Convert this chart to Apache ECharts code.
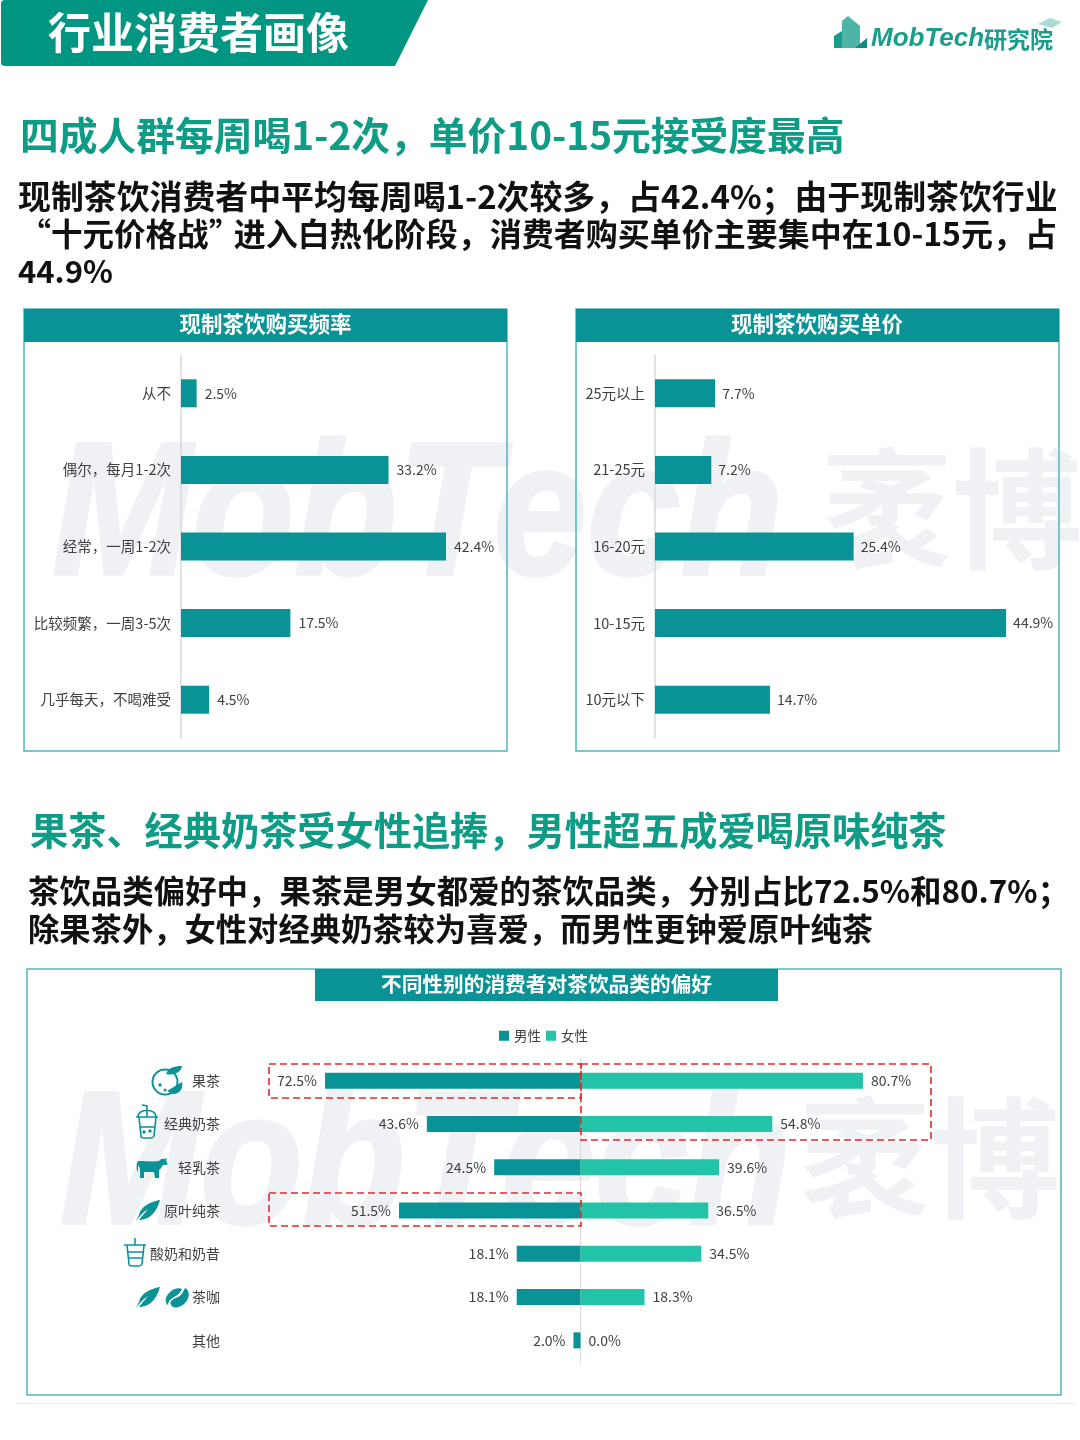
<!DOCTYPE html>
<html><head><meta charset="utf-8">
<style>html,body{margin:0;padding:0;background:#fff}#c{width:1080px;height:1440px}</style>
<script src="https://cdn.jsdelivr.net/npm/echarts@6/dist/echarts.min.js"></script>
</head><body><div id="c"></div>
<script>
const freqCategories = ['从不','偶尔，每月1-2次','经常，一周1-2次','比较频繁，一周3-5次','几乎每天，不喝难受'];
const freqValues = [2.5,33.2,42.4,17.5,4.5];
const priceCategories = ['25元以上','21-25元','16-20元','10-15元','10元以下'];
const priceValues = [7.7,7.2,25.4,44.9,14.7];
const teaCategories = ['果茶','经典奶茶','轻乳茶','原叶纯茶','酸奶和奶昔','茶咖','其他'];
const maleValues = [72.5,43.6,24.5,51.5,18.1,18.1,2.0];
const femaleValues = [80.7,54.8,39.6,36.5,34.5,18.3,0.0];

const TEAL='#0A9396', MINT='#22C3A6', FONT='"Noto Sans CJK SC","Noto Sans",sans-serif';
const pct=p=>p.value.toFixed(1)+'%';
const labelStyle={color:'#404040',fontSize:14,fontFamily:FONT};

let shapeCount=0;
function shapeOf(pathData){
  const name='decor'+(shapeCount++);
  echarts.graphic.registerShape(name,echarts.graphic.extendPath(pathData,{}));
  return name;
}
function decor(pathData,x,y,style){
  return {type:shapeOf(pathData),silent:true,x:x||0,y:y||0,style};
}
function txt(x,y,text,size,fill,weight,align,extra){
  return Object.assign({type:'text',silent:true,x,y,style:{text,font:`${weight||'normal'} ${size}px ${FONT}`,fill,textAlign:align||'left',textVerticalAlign:'middle'}},extra||{});
}
function box(x,y,w,h,fill,stroke,lw){
  return {type:'rect',silent:true,shape:{x,y,width:w,height:h},style:{fill:fill||'transparent',stroke:stroke||null,lineWidth:lw||0}};
}
function dash(x,y,w,h){
  return {type:'rect',silent:true,z:10,shape:{x,y,width:w,height:h},style:{fill:'transparent',stroke:'#E02B2B',lineWidth:1.6,lineDash:[7,4]}};
}
function watermark(x,y,x2,y2,scale){
  const c='#EFF1F4';
  return [
    {type:'text',silent:true,x,y,scaleY:scale,style:{text:'MobTech',font:'italic bold 168px "Liberation Sans",sans-serif',fill:c,stroke:c,lineWidth:3,textVerticalAlign:'middle'}},
    {type:'text',silent:true,x:x2,y:y2,style:{text:'袤博',font:`bold 130px ${FONT}`,fill:c,textVerticalAlign:'middle'}}
  ];
}
function icon(x,y,pathData,filled){
  return decor(pathData,x,y,filled?{fill:TEAL}:{fill:'transparent',stroke:TEAL,lineWidth:1.6});
}
const LEAF='M0 21 C3 17 6 13 12 9 C8 14 5 17 3 20 C11 20 20 15 24 0 C14 2 5 6 3 15 C2 17 1 19 0 21 Z';
const BEAN='M15 0 C20 2 20 10 15 15 C10 20 3 21 1 17 C-1 13 3 11 8 9 C12 7 13 4 15 0 Z';
const BEAN2='M12 1 C10 5 8 7 4 9 C0 11 -2 14 -2 17 C-4 16 -5 13 -4 10 C-2 4 6 -2 12 1 Z';
const COW='M0 6 C-1 10 0 14 1 15 L1 8 C2 9 3 11 3 13 L3 21 L7 21 L7 15 L17 15 L18 21 L22 21 L22 13 C24 12 25 9 26 8 L30 8 C31 7 30 5 29 3 L30 1 L27 2 L24 2 L22 4 C15 5 8 4 3 4 C2 4 0 4 0 6 Z';

const graphics=[
  ...watermark(52,522,822,509,1.13),
  ...watermark(60,1171,800,1158,1.13),
  decor('M5 0 L428 0 L395 66 L5 66 Q1 66 1 62 L1 4 Q1 0 5 0 Z',0,0,{fill:'#009682'}),
  txt(48,33,'行业消费者画像',43,'#fff','bold'),
  // logo
  decor('M834 48 L834 36 L842 31 L842 48 Z',0,0,{fill:'#1A9E8C'}),
  decor('M842 48 L842 21 L848 16 L860 26 L860 48 Z',0,0,{fill:'#4DB5A6'}),
  decor('M855 48 L867 38 L867 48 Z',0,0,{fill:'#0E8F7E'}),
  decor('M1038 24 L1050 18 L1062 22 L1052 28 Z',0,0,{fill:'#A9DDD3'}),
  {type:'text',silent:true,x:871,y:39,style:{text:'MobTech',font:'italic bold 26px "Liberation Sans",sans-serif',fill:'#1A9E8C',textVerticalAlign:'middle'}},
  txt(984,39,'研究院',23,'#1A9E8C','bold'),

  txt(20,135,'四成人群每周喝1-2次，单价10-15元接受度最高',38.76,'#0E9C87','bold'),
  txt(18,196,'现制茶饮消费者中平均每周喝1-2次较多，占42.4%；由于现制茶饮行业',32.9,'#111','bold'),
  txt(51,234,'“',31.5,'#111','bold','right'),
  txt(51,234,'十元价格战',31.5,'#111','bold'),
  txt(209,234,'”',31.5,'#111','bold'),
  txt(1057,234,'进入白热化阶段，消费者购买单价主要集中在10-15元，占',32,'#111','bold','right'),
  txt(18,271,'44.9%',31,'#111','bold'),

  box(24,309,483,442,null,'#4DB8BC',1.5),
  box(24,309,483,33,TEAL),
  txt(265.5,324,'现制茶饮购买频率',21.5,'#fff','bold','center'),
  box(576,309,483,442,null,'#4DB8BC',1.5),
  box(576,309,483,33,TEAL),
  txt(817,324,'现制茶饮购买单价',21.5,'#fff','bold','center'),

  txt(30,830,'果茶、经典奶茶受女性追捧，男性超五成爱喝原味纯茶',38.2,'#0E9C87','bold'),
  txt(28,891,'茶饮品类偏好中，果茶是男女都爱的茶饮品类，分别占比72.5%和80.7%；',31.45,'#111','bold'),
  txt(28,929,'除果茶外，女性对经典奶茶较为喜爱，而男性更钟爱原叶纯茶',31.3,'#111','bold'),

  box(27,969,1034,426,null,'#4DB8BC',1.5),
  box(315,969,463,32,TEAL),
  txt(546.5,984,'不同性别的消费者对茶饮品类的偏好',20.7,'#fff','bold','center'),
  box(15,1403,1060,1,'#EEEEEE'),

  dash(269,1064,312,34),
  dash(581,1064,350,76),
  dash(269,1193,312,33),

  // icons: fruit, cup, cow, leaf, yogurt, leaf + bean
  {type:'circle',silent:true,shape:{cx:165,cy:1082,r:12.5},style:{fill:'transparent',stroke:TEAL,lineWidth:2}},
  icon(166,1066,'M0 8 C2 2 8 0 16 0 C15 6 9 10 0 8 Z',true),
  icon(167,1082,'M0 9 L15 0 C17 6 12 13 5 12 Z',true),
  {type:'circle',silent:true,shape:{cx:160,cy:1085,r:1.7},style:{fill:TEAL}},
  {type:'circle',silent:true,shape:{cx:165,cy:1090,r:1.5},style:{fill:TEAL}},
  icon(136,1105,'M11 12 L11 1 L6 0 M2 12 C2 3 20 3 20 12 M0 12 L22 12 M3 12 L5 31 Q5 33 8 33 L15 33 Q17 33 18 31 L20 12 M4 22 L19 22',false),
  {type:'circle',silent:true,shape:{cx:144,cy:1132,r:1.7},style:{fill:TEAL}},
  {type:'circle',silent:true,shape:{cx:150,cy:1131,r:1.7},style:{fill:TEAL}},
  icon(137,1157,COW,true),
  icon(136,1200,LEAF,true),
  icon(124,1237,'M0 8 L22 8 M11 8 L11 1 M3 8 L5 27 Q5 29 8 29 L15 29 Q17 29 18 27 L20 8 M4 15 L19 15 M4 21 L19 21',false),
  icon(136,1287,LEAF,true),
  icon(170,1288,BEAN,true),
  icon(170,1288,BEAN2,true)
];

const option={
  animation:false,
  backgroundColor:'#fff',
  textStyle:{fontFamily:FONT},
  legend:{left:499,top:1029,padding:0,itemWidth:10,itemHeight:10,itemGap:5,icon:'rect',selectedMode:false,
    data:['男性','女性'],textStyle:{color:'#404040',fontSize:13.5,fontFamily:FONT}},
  graphic:{elements:graphics},
  grid:[
    {left:181,top:355,width:312.5,height:383},
    {left:655,top:355,width:391,height:383},
    {left:228.1,top:1059,width:352.4,height:303},
    {left:580.5,top:1059,width:350,height:303}
  ],
  xAxis:[
    {gridIndex:0,type:'value',min:0,max:50,show:false},
    {gridIndex:1,type:'value',min:0,max:50,show:false},
    {gridIndex:2,type:'value',min:0,max:100,inverse:true,show:false},
    {gridIndex:3,type:'value',min:0,max:100,show:false}
  ],
  yAxis:[
    {gridIndex:0,type:'category',inverse:true,data:freqCategories,axisTick:{show:false},axisLine:{lineStyle:{color:'#D9D9D9',width:1.5}},axisLabel:{...labelStyle,margin:10,fontSize:14.5}},
    {gridIndex:1,type:'category',inverse:true,data:priceCategories,axisTick:{show:false},axisLine:{lineStyle:{color:'#D9D9D9',width:1.5}},axisLabel:{...labelStyle,margin:10,fontSize:14.5}},
    {gridIndex:2,type:'category',inverse:true,position:'left',data:teaCategories,axisTick:{show:false},axisLine:{show:false,onZero:false},axisLabel:{...labelStyle,margin:8}},
    {gridIndex:3,type:'category',inverse:true,data:teaCategories,axisTick:{show:false},axisLine:{lineStyle:{color:'#D9D9D9'}},axisLabel:{show:false}}
  ],
  series:[
    {name:'购买频率',type:'bar',xAxisIndex:0,yAxisIndex:0,data:freqValues,barWidth:28,itemStyle:{color:TEAL},label:{show:true,position:'right',distance:8,formatter:pct,...labelStyle}},
    {name:'购买单价',type:'bar',xAxisIndex:1,yAxisIndex:1,data:priceValues,barWidth:28,itemStyle:{color:TEAL},label:{show:true,position:'right',distance:7,formatter:pct,...labelStyle}},
    {name:'男性',type:'bar',xAxisIndex:2,yAxisIndex:2,data:maleValues,barWidth:16,itemStyle:{color:TEAL},label:{show:true,position:'left',distance:8,formatter:pct,...labelStyle}},
    {name:'女性',type:'bar',xAxisIndex:3,yAxisIndex:3,data:femaleValues,barWidth:16,itemStyle:{color:MINT},label:{show:true,position:'right',distance:8,formatter:pct,...labelStyle}}
  ]
};
const chart=echarts.init(document.getElementById('c'),null,{renderer:'canvas',width:1080,height:1440});
chart.setOption(option);
</script></body></html>
